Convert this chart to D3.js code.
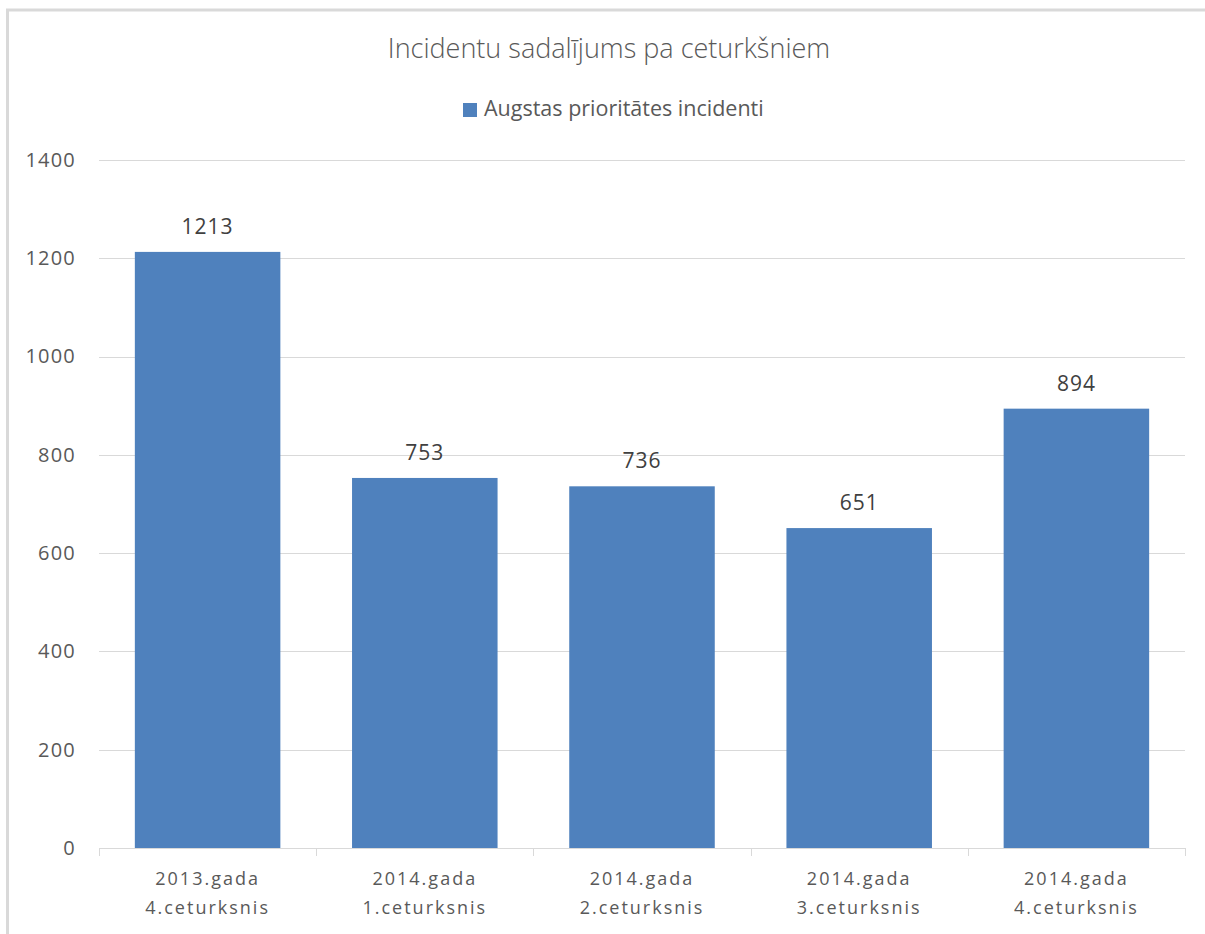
<!DOCTYPE html>
<html>
<head>
<meta charset="utf-8">
<script src="https://cdn.jsdelivr.net/npm/d3@7"></script>
<style>
  body { margin: 0; background: #fff; }
  text { font-family: "Open Sans", "Liberation Sans", sans-serif; }
</style>
</head>
<body>
<div class="chart"></div>
<script>
// Chart data
var categories = [
  ["2013.gada", "4.ceturksnis"],
  ["2014.gada", "1.ceturksnis"],
  ["2014.gada", "2.ceturksnis"],
  ["2014.gada", "3.ceturksnis"],
  ["2014.gada", "4.ceturksnis"]
];
var values = [1213, 753, 736, 651, 894];
var yTicks = [0, 200, 400, 600, 800, 1000, 1200, 1400];
var seriesName = "Augstas prioritātes incidenti";
var title = "Incidentu sadalījums pa ceturkšniem";

var svgWidth = 1205;
var svgHeight = 934;

var margin = { top: 160, right: 20, bottom: 86, left: 99 };
var width = 1185 - margin.left;
var height = 848 - margin.top;

var svg = d3.select(".chart")
  .append("svg")
  .attr("width", svgWidth)
  .attr("height", svgHeight);

// outer frame (only left and top edges visible)
svg.append("path")
  .attr("d", "M7.5,934 L7.5,10 L1205,10")
  .attr("fill", "none")
  .attr("stroke", "#d9d9d9")
  .attr("stroke-width", 3);

var chartGroup = svg.append("g")
  .attr("transform", `translate(${margin.left}, ${margin.top})`);

// Scales
var xScale = d3.scaleBand()
  .domain(d3.range(values.length))
  .range([0, width])
  .paddingInner(0.33)
  .paddingOuter(0.165);

var yScale = d3.scaleLinear()
  .domain([0, 1400])
  .range([height, 0]);

// Gridlines
chartGroup.selectAll(".grid")
  .data(yTicks.slice(1))
  .enter()
  .append("line")
  .attr("x1", 0)
  .attr("x2", width)
  .attr("y1", d => Math.round(yScale(d)) + 0.5)
  .attr("y2", d => Math.round(yScale(d)) + 0.5)
  .attr("stroke", "#d9d9d9")
  .attr("stroke-width", 1);

// Y axis labels
var yAxis = d3.axisLeft(yScale)
  .tickValues(yTicks)
  .tickFormat(d3.format("d"))
  .tickSize(0)
  .tickPadding(23);

var yAxisG = chartGroup.append("g").call(yAxis);
yAxisG.select(".domain").remove();
yAxisG.selectAll("text")
  .attr("fill", "#595959")
  .attr("font-size", "20px")
  .attr("letter-spacing", "1.2px")
  .style("font-family", "'Open Sans', sans-serif");

// Bars
chartGroup.selectAll(".bar")
  .data(values)
  .enter()
  .append("rect")
  .attr("class", "bar")
  .attr("x", (d, i) => xScale(i))
  .attr("y", d => yScale(d))
  .attr("width", xScale.bandwidth())
  .attr("height", d => height - yScale(d))
  .attr("fill", "#4f81bd");

// Value labels
chartGroup.selectAll(".valueLabel")
  .data(values)
  .enter()
  .append("text")
  .attr("class", "valueLabel")
  .attr("x", (d, i) => xScale(i) + xScale.bandwidth() / 2)
  .attr("y", d => yScale(d) - 18)
  .attr("text-anchor", "middle")
  .attr("fill", "#404040")
  .attr("font-size", "21px")
  .attr("letter-spacing", "1px")
  .text(d => d);

// X axis line and ticks at category boundaries
var step = width / values.length;
chartGroup.append("line")
  .attr("x1", 0).attr("x2", width)
  .attr("y1", height + 0.5).attr("y2", height + 0.5)
  .attr("stroke", "#d9d9d9");

chartGroup.selectAll(".xtick")
  .data(d3.range(values.length + 1))
  .enter()
  .append("line")
  .attr("x1", d => Math.round(d * step) + 0.5)
  .attr("x2", d => Math.round(d * step) + 0.5)
  .attr("y1", height)
  .attr("y2", height + 8)
  .attr("stroke", "#d9d9d9");

// X labels (two lines)
var xLabels = chartGroup.selectAll(".xLabel")
  .data(categories)
  .enter()
  .append("text")
  .attr("class", "xLabel")
  .attr("text-anchor", "middle")
  .attr("fill", "#595959")
  .attr("font-size", "18px")
  .attr("letter-spacing", "2px")
  .attr("transform", (d, i) => `translate(${(i + 0.5) * step}, ${height + 37})`);

xLabels.append("tspan")
  .attr("x", 0)
  .text(d => d[0]);
xLabels.append("tspan")
  .attr("x", 0)
  .attr("dy", 29)
  .text(d => d[1]);

// Title
svg.append("text")
  .attr("x", 609)
  .attr("y", 58)
  .attr("text-anchor", "middle")
  .attr("fill", "#595959")
  .attr("font-size", "27px")
  .attr("font-weight", 300)
  .text(title);

// Legend
var legend = svg.append("g")
  .attr("transform", "translate(463, 103)");
legend.append("rect")
  .attr("width", 14)
  .attr("height", 14)
  .attr("fill", "#4f81bd");
legend.append("text")
  .attr("x", 21)
  .attr("y", 13)
  .attr("fill", "#595959")
  .attr("font-size", "21.5px")
  .text(seriesName);
</script>
</body>
</html>
